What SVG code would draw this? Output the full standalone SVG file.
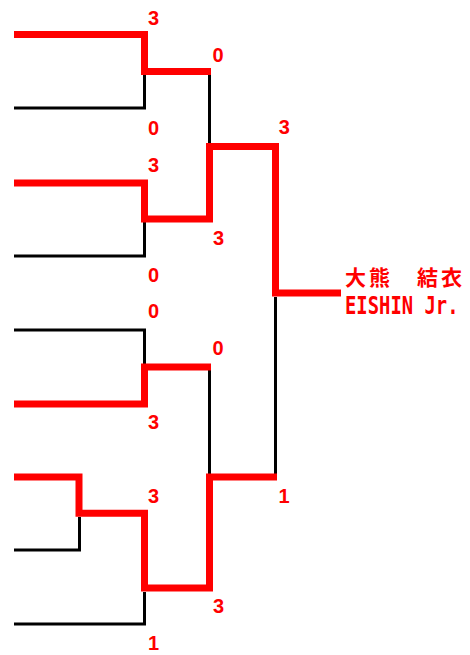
<svg xmlns="http://www.w3.org/2000/svg" width="470" height="655" viewBox="0 0 470 655">
<style>
.win{fill:none;stroke:#ff0000;stroke-width:7;stroke-linejoin:miter;stroke-linecap:butt}
.lose{fill:none;stroke:#000000;stroke-width:3;stroke-linejoin:miter;stroke-linecap:butt}
.score{font-family:"Liberation Sans",Arial,sans-serif;font-weight:bold;font-size:20px;fill:#ff0000;text-anchor:middle}
.name{font-family:"Noto Sans CJK JP",sans-serif;font-weight:bold;font-size:21px;fill:#ff0000}
.team{font-family:"DejaVu Sans Mono",monospace;font-weight:bold;font-size:24px;fill:#ff0000}
</style>
<rect width="470" height="655" fill="#ffffff"/>
<g id="connectors">
  <path class="lose" d="M14,108 H144.5 V75"/>
  <path class="lose" d="M209.5,75 V143"/>
  <path class="lose" d="M14,256 H144.5 V222"/>
  <path class="lose" d="M14,330 H144.5 V364"/>
  <path class="lose" d="M209.5,370 V474"/>
  <path class="lose" d="M275.5,297 V474"/>
  <path class="lose" d="M14,550 H79.5 V517"/>
  <path class="lose" d="M14,624 H144.5 V592"/>
  <path class="win" d="M14,34.5 H144.5 V71.5 H211"/>
  <path class="win" d="M14,183 H144.5 V219 H209.5 V146.5 H275.5 V293 H341"/>
  <path class="win" d="M14,404 H144.5 V367 H211"/>
  <path class="win" d="M14,477 H79 V513.3 H144.5 V588 H209.5 V477 H277"/>
</g>
<g id="s1"><text class="score" x="153.5" y="25">3</text></g>
<g id="s2"><text class="score" x="153.5" y="135">0</text></g>
<g id="s3"><text class="score" x="153.5" y="172">3</text></g>
<g id="s4"><text class="score" x="153.5" y="282">0</text></g>
<g id="s5"><text class="score" x="153.5" y="318">0</text></g>
<g id="s6"><text class="score" x="153.5" y="429">3</text></g>
<g id="s7"><text class="score" x="153.5" y="503">3</text></g>
<g id="s8"><text class="score" x="153.5" y="650">1</text></g>
<g id="s9"><text class="score" x="218" y="62">0</text></g>
<g id="s10"><text class="score" x="218.5" y="245">3</text></g>
<g id="s11"><text class="score" x="218" y="355">0</text></g>
<g id="s12"><text class="score" x="218.5" y="613">3</text></g>
<g id="s13"><text class="score" x="284.3" y="134">3</text></g>
<g id="s14"><text class="score" x="284" y="503">1</text></g>
<g id="winner">
  <text class="name" x="345" y="285" textLength="117" lengthAdjust="spacing">大熊　結衣</text>
  <text class="team" transform="translate(345,314.3) scale(0.786,1)" x="0" y="0">EISHIN Jr.</text>
</g>
</svg>
